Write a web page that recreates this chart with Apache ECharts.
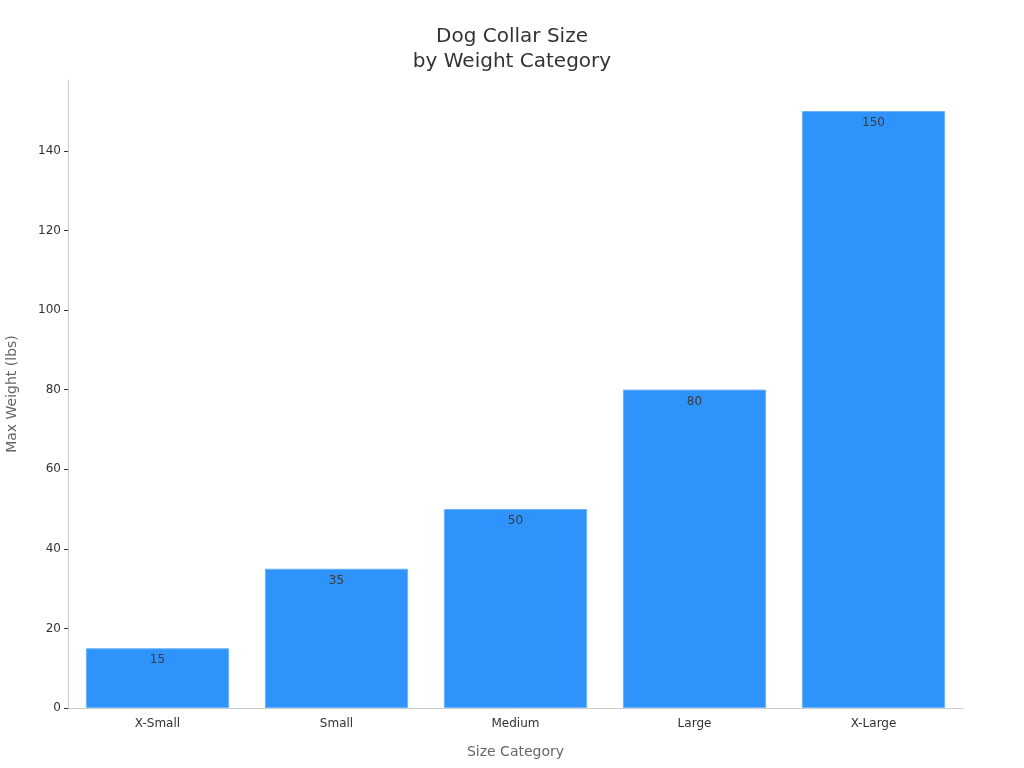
<!DOCTYPE html>
<html>
<head>
<meta charset="utf-8">
<script src="https://cdn.jsdelivr.net/npm/echarts@6/dist/echarts.min.js"></script>
<style>
	html, body { margin: 0; padding: 0; background: #fff; }
	#chart { width: 1024px; height: 768px; }
</style>
</head>
<body>
<div id="chart"></div>
<script>
const categories = ['X-Small', 'Small', 'Medium', 'Large', 'X-Large'];
const maxWeights = [15, 35, 50, 80, 150];
const yTicks = [0, 20, 40, 60, 80, 100, 120, 140];

const chart = echarts.init(document.getElementById('chart'));

chart.setOption({
	animation: false,
	textStyle: { fontFamily: 'DejaVu Sans' },
	title: {
		text: 'Dog Collar Size\nby Weight Category',
		left: 'center',
		top: 19,
		textStyle: { fontSize: 20, fontWeight: 'normal', color: '#333', lineHeight: 25 }
	},
	grid: { left: 68, right: 61, top: 80, bottom: 60, containLabel: false, outerBoundsMode: 'none' },
	xAxis: {
		type: 'category',
		data: categories,
		name: 'Size Category',
		nameLocation: 'middle',
		nameGap: 37,
		nameTextStyle: { fontSize: 14, color: '#666' },
		axisLine: { lineStyle: { color: '#ccc' } },
		axisTick: { alignWithLabel: true, length: 4, lineStyle: { color: '#333' } },
		axisLabel: { fontSize: 12, color: '#333', margin: 10 }
	},
	yAxis: {
		type: 'value',
		min: 0,
		max: 157.8,
		name: 'Max Weight (lbs)',
		nameLocation: 'middle',
		nameGap: 49,
		nameTextStyle: { fontSize: 14, color: '#666' },
		axisLine: { show: true, lineStyle: { color: '#ccc' } },
		axisTick: { show: true, length: 4, customValues: yTicks, lineStyle: { color: '#333' } },
		axisLabel: { fontSize: 12, color: '#333', margin: 7, customValues: yTicks },
		splitLine: { show: false }
	},
	series: [{
		type: 'bar',
		data: maxWeights,
		barCategoryGap: '20%',
		itemStyle: { color: '#2e93fa', borderColor: '#6bb3fb', borderWidth: 1 },
		label: {
			show: true,
			position: 'insideTop',
			distance: 6,
			fontSize: 12,
			color: '#3a3a3a'
		}
	}]
});
</script>
</body>
</html>
